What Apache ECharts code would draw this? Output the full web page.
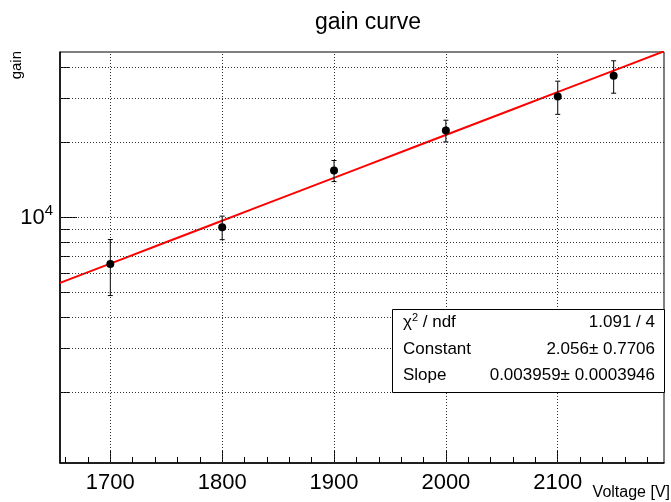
<!DOCTYPE html>
<html>
<head>
<meta charset="utf-8">
<script src="https://cdn.jsdelivr.net/npm/echarts@6/dist/echarts.min.js"></script>
<style>
  html, body { margin: 0; padding: 0; background: #fff; }
  #chart { width: 671px; height: 502px; }
</style>
</head>
<body>
<div id="chart"></div>
<script>
// Measured gain per supply voltage, with symmetric errors
const voltage = [1700, 1800, 1900, 2000, 2100, 2150];
const gain    = [6520, 9150, 15450, 22350, 30600, 37050];
const gainErr = [1650, 990, 1500, 2230, 4650, 5500];

// Exponential fit: gain = exp(Constant + Slope * V)
const fitConstant = 2.056;
const fitSlope = 0.003959;
const fitRange = [1655, 2195];

// Fit statistics box rows
const statNames  = ['{a|χ}{s|2}{a| / ndf}', 'Constant', 'Slope'];
const statValues = ['1.091 / 4', '2.056± 0.7706', '0.003959± 0.0003946'];

// Axis ranges and ticks
const xRange = [1655, 2195];
const yRange = [1038, 46150];
const xMajor = [1700, 1800, 1900, 2000, 2100];
const xMinor = [1660, 1680, 1720, 1740, 1760, 1780, 1820, 1840, 1860, 1880,
                1920, 1940, 1960, 1980, 2020, 2040, 2060, 2080, 2120, 2140,
                2160, 2180];
const yMajor = [10000];
const yMinor = [2000, 3000, 4000, 5000, 6000, 7000, 8000, 9000, 20000, 30000, 40000];

const FONT = 'Liberation Sans, Arial, Helvetica, sans-serif';

// Curve of the fitted function over the plotted range
const fitCurve = [];
for (let i = 0; i <= 12; i++) {
  const v = fitRange[0] + (fitRange[1] - fitRange[0]) * i / 12;
  fitCurve.push([v, Math.exp(fitConstant + fitSlope * v)]);
}

const gridLineStyle = { color: '#333', width: 1, type: [1, 2] };

const chart = echarts.init(document.getElementById('chart'), null, { renderer: 'canvas' });

// Statistics box drawn on top of the grid
const statGraphics = [
  {
    type: 'rect', z: 100,
    shape: { x: 392.5, y: 309.5, width: 272, height: 83 },
    style: { fill: '#fff', stroke: '#000', lineWidth: 1 }
  }
];
const rowY = [322, 349, 375];
statNames.forEach((name, i) => {
  statGraphics.push({
    type: 'text', z: 101,
    x: 403, y: rowY[i],
    style: {
      text: name,
      font: '17px ' + FONT,
      fill: '#000',
      textAlign: 'left',
      textVerticalAlign: 'middle',
      rich: {
        a: { fontSize: 17, fontFamily: FONT, fill: '#000' },
        s: { fontSize: 11, fontFamily: FONT, fill: '#000', verticalAlign: 'top', padding: [0, 0, 9, 0] }
      }
    }
  });
  statGraphics.push({
    type: 'text', z: 101,
    x: 655, y: rowY[i],
    style: {
      text: statValues[i],
      font: '17px ' + FONT,
      fill: '#000',
      textAlign: 'right',
      textVerticalAlign: 'middle'
    }
  });
});

chart.setOption({
  animation: false,
  backgroundColor: '#fff',
  title: {
    text: 'gain curve',
    left: 363,
    top: 6,
    textAlign: 'center',
    textStyle: { fontFamily: FONT, fontSize: 23, fontWeight: 'normal', color: '#000' }
  },
  grid: {
    left: 60, right: 7, top: 52, bottom: 39,
    show: true, borderColor: '#000', borderWidth: 1, backgroundColor: 'transparent'
  },
  xAxis: [
    {
      type: 'value', min: xRange[0], max: xRange[1],
      axisLine: { show: true, onZero: false, lineStyle: { color: '#000', width: 1.5 } },
      axisTick: { show: true, inside: true, length: 12, customValues: xMajor, lineStyle: { color: '#000', width: 1 } },
      axisLabel: {
        show: true, customValues: xMajor, margin: 9,
        formatter: v => String(v),
        fontFamily: FONT, fontSize: 22, color: '#000'
      },
      splitLine: { show: false }
    },
    {
      type: 'value', min: xRange[0], max: xRange[1], position: 'bottom',
      axisLine: { show: false },
      axisTick: { show: true, inside: true, length: 6, customValues: xMinor, lineStyle: { color: '#000', width: 1 } },
      axisLabel: { show: false },
      splitLine: { show: false }
    }
  ],
  yAxis: [
    {
      type: 'log', logBase: 10, min: yRange[0], max: yRange[1],
      axisLine: { show: true, onZero: false, lineStyle: { color: '#000', width: 1.5 } },
      axisTick: { show: true, inside: true, length: 17, customValues: yMajor, lineStyle: { color: '#000', width: 1 } },
      axisLabel: {
        show: true, customValues: yMajor, margin: 7,
        formatter: () => '{b|10}{e|4}',
        rich: {
          b: { fontFamily: FONT, fontSize: 22, color: '#000' },
          e: { fontFamily: FONT, fontSize: 15, color: '#000', verticalAlign: 'top', padding: [0, 0, 13, 0] }
        }
      },
      splitLine: { show: false }
    },
    {
      type: 'log', logBase: 10, min: yRange[0], max: yRange[1], position: 'left',
      axisLine: { show: false },
      axisTick: { show: true, inside: true, length: 9, customValues: yMinor, lineStyle: { color: '#000', width: 1 } },
      axisLabel: { show: false },
      splitLine: { show: false }
    }
  ],
  series: [
    {
      // dotted grid at the tick positions
      type: 'line', data: [], z: 1, silent: true,
      markLine: {
        silent: true, symbol: 'none', animation: false,
        label: { show: false },
        lineStyle: gridLineStyle,
        data: xMajor.map(v => ({ xAxis: v })).concat(yMajor.concat(yMinor).map(v => ({ yAxis: v })))
      }
    },
    {
      name: 'fit', type: 'line', data: fitCurve, showSymbol: false, symbol: 'none',
      clip: true, z: 3, smooth: false,
      lineStyle: { color: '#ff0000', width: 2 }
    },
    {
      name: 'errors', type: 'custom', z: 4, clip: true,
      encode: { x: 0, y: 1 },
      data: voltage.map((v, i) => [v, gain[i], gainErr[i]]),
      renderItem: (params, api) => {
        const x = api.value(0), y = api.value(1), e = api.value(2);
        const top = api.coord([x, y + e]);
        const bot = api.coord([x, y - e]);
        const w = 2.5;
        const st = { stroke: '#000', lineWidth: 1 };
        return {
          type: 'group',
          children: [
            { type: 'line', shape: { x1: top[0], y1: top[1], x2: bot[0], y2: bot[1] }, style: st },
            { type: 'line', shape: { x1: top[0] - w, y1: top[1], x2: top[0] + w, y2: top[1] }, style: st },
            { type: 'line', shape: { x1: bot[0] - w, y1: bot[1], x2: bot[0] + w, y2: bot[1] }, style: st }
          ]
        };
      }
    },
    {
      name: 'gain', type: 'scatter', z: 5,
      data: voltage.map((v, i) => [v, gain[i]]),
      symbol: 'circle', symbolSize: 8,
      itemStyle: { color: '#000', opacity: 1 }
    }
  ],
  graphic: [
    {
      type: 'text', x: 670, y: 493,
      style: { text: 'Voltage [V]', font: '16px ' + FONT, fill: '#000', textAlign: 'right', textVerticalAlign: 'middle' }
    },
    {
      type: 'text', x: 17, y: 51, rotation: Math.PI / 2,
      style: { text: 'gain', font: '15px ' + FONT, fill: '#000', textAlign: 'right', textVerticalAlign: 'middle' }
    },
    { type: 'group', children: statGraphics }
  ]
});
</script>
</body>
</html>
